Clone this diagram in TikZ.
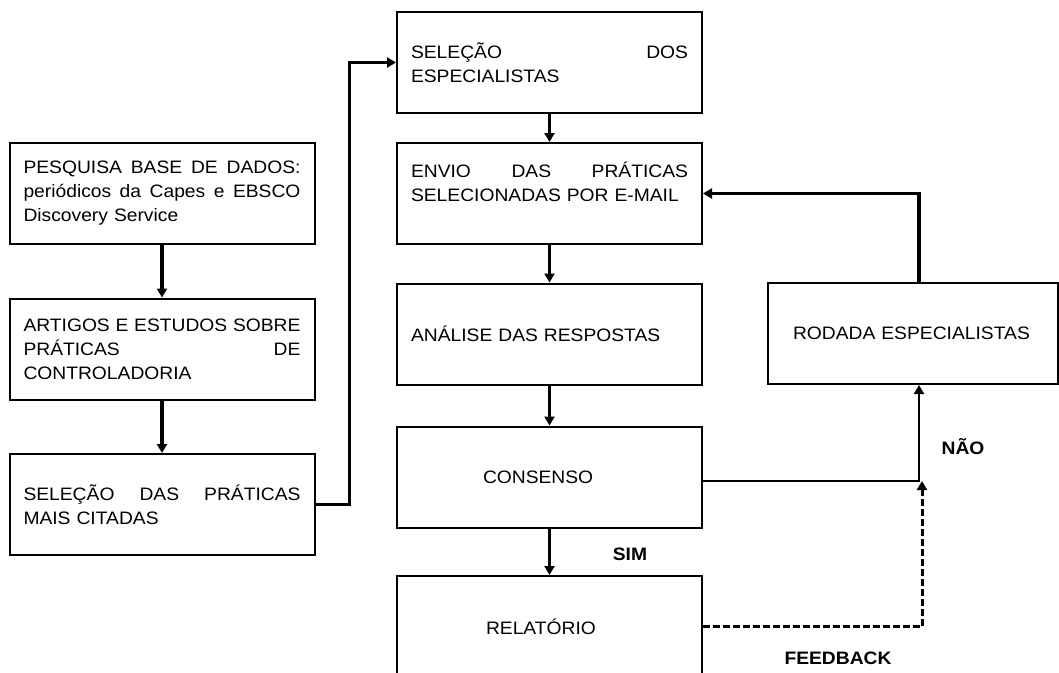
\documentclass[tikz,border=0pt]{standalone}
\usepackage{fontspec}
\setmainfont{Liberation Sans}[FakeStretch=1.07]
\usetikzlibrary{arrows.meta,calc}
\newcommand\spreadline[1]{{\spaceskip=0pt\xspaceskip=0pt\makebox[277pt][s]{#1}}}
\begin{document}
\begin{tikzpicture}[x=1pt,y=-1pt,
  box/.style={draw,line width=2pt,minimum width=305pt,minimum height=101pt,
    inner xsep=14pt,inner ysep=0pt,text width=277pt,align=left,
    font=\fontsize{18}{24}\selectfont},
  arr/.style={line width=3.2pt,-{Triangle[width=10pt,length=9pt]}},
  thinarr/.style={line width=2.2pt,-{Triangle[width=10pt,length=9pt]}},
  dasharr/.style={line width=3pt,dash pattern=on 7pt off 3pt,-{Triangle[width=10pt,length=9pt]}},
  lab/.style={font=\fontsize{18}{24}\selectfont\bfseries}]
\clip (0,0) rectangle (1059,672);
% left column
\node[box] (pesq) at (162,193.5) {\spreadline{PESQUISA BASE DE DADOS:}\\\spreadline{periódicos da Capes e EBSCO}\\Discovery Service};
\node[box] (artigos) at (162,349) {\spreadline{ARTIGOS E ESTUDOS SOBRE}\\PRÁTICAS\hfill DE\\CONTROLADORIA};
\node[box] (selpra) at (162,504.5) {\spreadline{SELEÇÃO DAS PRÁTICAS}\\MAIS CITADAS};
% middle column
\node[box] (seldos) at (549.5,62.5) {SELEÇÃO\hfill DOS\\ESPECIALISTAS};
\node[box] (envio) at (549.5,193.5) {\spreadline{ENVIO DAS PRÁTICAS}\\SELECIONADAS POR E-MAIL\\\mbox{}};
\node[box] (analise) at (549.5,334) {ANÁLISE DAS RESPOSTAS};
\node[box] (consenso) at (549.5,477) {\hspace*{72pt}CONSENSO};
\node[box] (relatorio) at (549.5,626.5) {\hspace*{75pt}RELATÓRIO};
% right
\node[box,minimum width=290pt,text width=262pt] (rodada) at (913,333.5) {\hspace*{11pt}RODADA ESPECIALISTAS};
% labels
\node[lab] (sim) at (630,554) {SIM};
\node[lab] (nao) at (963,447) {NÃO};
\node[lab] (feedback) at (838,658) {FEEDBACK};
% connectors
\draw[arr] (pesq) -- (artigos);
\draw[arr] (artigos) -- (selpra);
\draw[arr] (selpra.east) -- ++(34,0) |- (seldos.west);
\draw[arr] (seldos) -- (envio);
\draw[arr] (envio) -- (analise);
\draw[arr] (analise) -- (consenso);
\draw[arr] (consenso) -- (relatorio);
\draw[arr] ([xshift=6pt]rodada.north) |- (envio.east);
\draw[thinarr] ([yshift=-4pt]consenso.east) -| ([xshift=6pt]rodada.south);
\coordinate (fb) at (922,481);
\draw[dasharr] (relatorio.east) -| (fb);
\end{tikzpicture}
\end{document}
